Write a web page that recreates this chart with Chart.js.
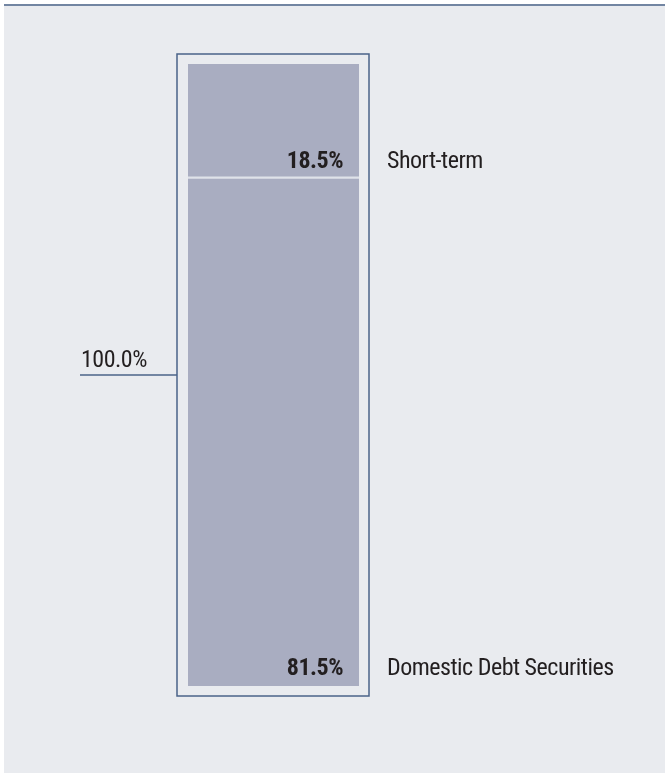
<!DOCTYPE html>
<html>
<head>
<meta charset="utf-8">
<script src="https://cdn.jsdelivr.net/npm/chart.js@4/dist/chart.umd.min.js"></script>
<style>
  html, body { margin: 0; padding: 0; background: #ffffff; }
  canvas { display: block; }
</style>
</head>
<body>
<canvas id="debtChart" width="665" height="773"></canvas>
<script>
// Composition of the stock, bottom segment first
const segmentNames = ["Domestic Debt Securities", "Short-term"];
const segmentShares = [81.5, 18.5];

const barColor = "#a9adc1";
const frameColor = "#4a6389";
const inkColor = "#231f20";
const textFont = "'Roboto Condensed', 'Liberation Sans Narrow', sans-serif";

const pageBackground = {
    id: "pageBackground",
    beforeDraw(chart) {
        const ctx = chart.ctx;
        ctx.save();
        ctx.fillStyle = "#ffffff";
        ctx.fillRect(0, 0, chart.width, chart.height);
        ctx.fillStyle = "#e9ebef";
        ctx.fillRect(4, 4, chart.width - 4, chart.height - 4);
        ctx.strokeStyle = frameColor;
        ctx.lineWidth = 1.5;
        ctx.beginPath();
        ctx.moveTo(4, 5);
        ctx.lineTo(chart.width, 5);
        ctx.stroke();
        ctx.restore();
    },
};

// Frame around the bar, total bracket and the text labels
const barAnnotations = {
    id: "barAnnotations",
    afterDatasetsDraw(chart) {
        const ctx = chart.ctx;
        const area = chart.chartArea;
        const frame = {
            left: area.left - 11,
            top: area.top - 10,
            right: area.right + 10,
            bottom: area.bottom + 10,
        };
        const midY = (frame.top + frame.bottom) / 2;

        ctx.save();
        ctx.strokeStyle = frameColor;
        ctx.lineWidth = 1.5;
        ctx.strokeRect(frame.left, frame.top, frame.right - frame.left, frame.bottom - frame.top);
        ctx.beginPath();
        ctx.moveTo(80, midY);
        ctx.lineTo(frame.left, midY);
        ctx.stroke();

        const total = segmentShares.reduce((a, b) => a + b, 0);
        ctx.fillStyle = inkColor;
        ctx.textBaseline = "alphabetic";
        ctx.letterSpacing = "-0.5px";
        ctx.textAlign = "left";
        ctx.font = "24px " + textFont;
        ctx.fillText(total.toFixed(1) + "%", 81, midY - 8);

        chart.data.datasets.forEach((ds, i) => {
            const bar = chart.getDatasetMeta(i).data[0];
            const baseline = bar.base - 11;
            ctx.textAlign = "right";
            ctx.font = "bold 24px " + textFont;
            ctx.fillText(ds.data[0].toFixed(1) + "%", area.right - 16, baseline);
            ctx.textAlign = "left";
            ctx.font = "24px " + textFont;
            ctx.fillText(ds.label, area.right + 28, baseline);
        });
        ctx.restore();
    },
};

new Chart(document.getElementById("debtChart"), {
    type: "bar",
    data: {
        labels: [""],
        datasets: segmentNames.map((name, i) => ({
            label: name,
            data: [segmentShares[i]],
            backgroundColor: barColor,
            borderColor: "#dfe2e9",
            borderSkipped: false,
            borderWidth: i === 0 ? 0 : { top: 0, left: 0, right: 0, bottom: 3 },
            barPercentage: 1,
            categoryPercentage: 1,
        })),
    },
    options: {
        responsive: false,
        devicePixelRatio: 1,
        animation: false,
        layout: { padding: { left: 188, right: 306, top: 64, bottom: 87 } },
        plugins: {
            legend: { display: false },
            tooltip: { enabled: false },
        },
        scales: {
            x: { stacked: true, display: false },
            y: { stacked: true, display: false, min: 0, max: 100 },
        },
    },
    plugins: [pageBackground, barAnnotations],
});
</script>
</body>
</html>
